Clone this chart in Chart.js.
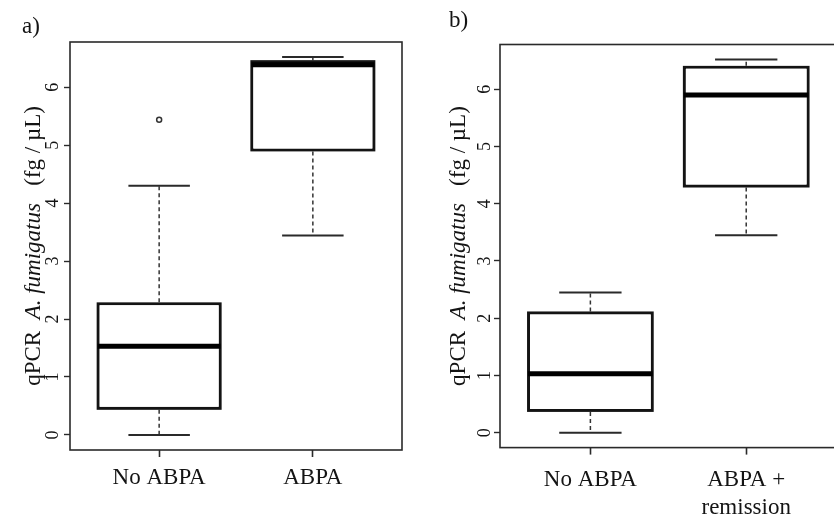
<!DOCTYPE html>
<html><head><meta charset="utf-8">
<script src="https://cdn.jsdelivr.net/npm/chart.js@4.4.1/dist/chart.umd.min.js"></script>
<style>
html,body{margin:0;padding:0;overflow:hidden;background:#fff;width:834px;height:521px;}
#wa{position:absolute;left:0;top:0;width:417px;height:521px;}
#wb{position:absolute;left:417px;top:0;width:440px;height:521px;}
</style></head><body>
<div id="wa"><canvas id="ca"></canvas></div>
<div id="wb"><canvas id="cb"></canvas></div>
<script>
// ---- data ----
const panelLabels = ['a)', 'b)'];
const categoriesA = ['No ABPA', 'ABPA'];
const categoriesB = ['No ABPA', ['ABPA +', 'remission']];

// panel a: box-plot summaries (fg/µL)
const whiskerLowA  = [0.00, 3.44];
const q1A          = [0.45, 4.91];
const medianA      = [1.53, 6.39];
const q3A          = [2.27, 6.45];
const whiskerHighA = [4.30, 6.52];
const outliersA    = [[5.44], []];

// panel b
const whiskerLowB  = [0.00, 3.45];
const q1B          = [0.38, 4.30];
const medianB      = [1.03, 5.90];
const q3B          = [2.10, 6.39];
const whiskerHighB = [2.45, 6.52];
const outliersB    = [[], []];

const yTicks = [0, 1, 2, 3, 4, 5, 6];
const yTitleParts = [
  {text: 'qPCR  ', italic: false},
  {text: 'A. fumigatus', italic: true},
  {text: '   (fg / \u00B5L)', italic: false}
];

const FONT = '"Liberation Serif", "Times New Roman", serif';
const INK = '#141414';

function makePanel(canvasId, label, cats, lo, q1, med, q3, hi, outs, L) {
  const n = cats.length;
  const all = lo.concat(hi, outs.flat());
  const dmin = Math.min(...all), dmax = Math.max(...all);
  const ypad = 0.04 * (dmax - dmin);
  const xpad = 0.04 * n;

  const boxPlugin = {
    id: 'box_' + canvasId,
    afterDatasetsDraw(chart) {
      const ctx = chart.ctx, xs = chart.scales.x, ys = chart.scales.y;
      const bars = chart.getDatasetMeta(0).data;
      ctx.save();
      for (let i = 0; i < n; i++) {
        const xc = xs.getPixelForValue(i + 1);
        const w = bars[i].width;
        // whiskers (dashed)
        ctx.strokeStyle = '#333';
        ctx.lineWidth = 1.5;
        ctx.setLineDash([4, 3]);
        ctx.beginPath();
        ctx.moveTo(xc, ys.getPixelForValue(q3[i]) - 1);
        ctx.lineTo(xc, ys.getPixelForValue(hi[i]));
        ctx.moveTo(xc, ys.getPixelForValue(q1[i]) + 1);
        ctx.lineTo(xc, ys.getPixelForValue(lo[i]));
        ctx.stroke();
        ctx.setLineDash([]);
        // caps
        ctx.lineWidth = 2;
        ctx.strokeStyle = '#2a2a2a';
        ctx.beginPath();
        ctx.moveTo(xc - w / 4, ys.getPixelForValue(hi[i]));
        ctx.lineTo(xc + w / 4, ys.getPixelForValue(hi[i]));
        ctx.moveTo(xc - w / 4, ys.getPixelForValue(lo[i]));
        ctx.lineTo(xc + w / 4, ys.getPixelForValue(lo[i]));
        ctx.stroke();
        // box outline redraw + median
        ctx.strokeStyle = INK;
        ctx.lineWidth = 2;
        const yt = ys.getPixelForValue(q3[i]), yb = ys.getPixelForValue(q1[i]);
        ctx.strokeRect(xc - w / 2, yt, w, yb - yt);
        ctx.lineWidth = 5;
        ctx.strokeStyle = '#000';
        ctx.beginPath();
        ctx.moveTo(xc - w / 2, ys.getPixelForValue(med[i]));
        ctx.lineTo(xc + w / 2, ys.getPixelForValue(med[i]));
        ctx.stroke();
      }
      ctx.restore();
    },
    afterDraw(chart) {
      const ctx = chart.ctx, ys = chart.scales.y, a = chart.chartArea;
      ctx.save();
      // frame
      ctx.strokeStyle = '#2a2a2a';
      ctx.lineWidth = 1.6;
      ctx.strokeRect(a.left, a.top, a.right - a.left, a.bottom - a.top);
      // y tick labels (rotated, parallel to axis)
      ctx.fillStyle = INK;
      ctx.font = L.tickSize + 'px ' + FONT;
      ctx.textAlign = 'center';
      ctx.textBaseline = 'middle';
      yTicks.forEach(v => {
        ctx.save();
        ctx.translate(a.left - L.tickLabelGap, ys.getPixelForValue(v));
        ctx.rotate(-Math.PI / 2);
        ctx.fillText(String(v), 0, 0);
        ctx.restore();
      });
      // y title with italic species name
      ctx.save();
      ctx.translate(L.titleX, (a.top + a.bottom) / 2);
      ctx.rotate(-Math.PI / 2);
      ctx.textAlign = 'left';
      const fonts = yTitleParts.map(p => (p.italic ? 'italic ' : '') + L.titleSize + 'px ' + FONT);
      let total = 0;
      const widths = yTitleParts.map((p, k) => { ctx.font = fonts[k]; const m = ctx.measureText(p.text).width; total += m; return m; });
      let x = -total / 2;
      yTitleParts.forEach((p, k) => { ctx.font = fonts[k]; ctx.fillText(p.text, x, 0); x += widths[k]; });
      ctx.restore();
      // panel label
      ctx.font = L.labelSize + 'px ' + FONT;
      ctx.textAlign = 'left';
      ctx.textBaseline = 'middle';
      ctx.fillText(label, L.labelX, L.labelY);
      ctx.restore();
    }
  };

  return new Chart(document.getElementById(canvasId), {
    type: 'bar',
    data: {
      datasets: [{
        type: 'bar',
        data: cats.map((c, i) => ({x: i + 1, y: [q1[i], q3[i]]})),
        backgroundColor: '#ffffff',
        borderColor: INK,
        borderWidth: 2,
        borderSkipped: false,
        barPercentage: 0.8,
        categoryPercentage: 1.0,
        grouped: false
      }, {
        type: 'scatter',
        data: outs.flatMap((arr, i) => arr.map(v => ({x: i + 1, y: v}))),
        pointRadius: 2.5,
        pointBorderWidth: 1.5,
        borderColor: '#333',
        backgroundColor: '#fff'
      }]
    },
    options: {
      responsive: true,
      maintainAspectRatio: false,
      animation: false,
      events: [],
      layout: {padding: {left: 0, right: L.padRight, top: L.padTop, bottom: 0}},
      plugins: {legend: {display: false}, tooltip: {enabled: false}, title: {display: false}},
      scales: {
        x: {
          type: 'linear',
          min: 0.5 - xpad,
          max: n + 0.5 + xpad,
          offset: false,
          afterBuildTicks: s => { s.ticks = cats.map((c, i) => ({value: i + 1})); },
          afterFit: s => { s.height = L.bottomH; },
          ticks: {
            autoSkip: false, maxRotation: 0, minRotation: 0,
            padding: L.xPad,
            color: INK,
            font: {family: FONT, size: L.xSize, lineHeight: 1.2},
            callback: v => cats[Math.round(v) - 1]
          },
          grid: {display: true, offset: false, drawOnChartArea: false, drawTicks: true, tickLength: 7, tickWidth: 1.6, tickColor: '#2a2a2a'},
          border: {display: false}
        },
        y: {
          type: 'linear',
          min: dmin - ypad,
          max: dmax + ypad,
          afterBuildTicks: s => { s.ticks = yTicks.map(v => ({value: v})); },
          afterFit: s => { s.width = L.leftW; },
          ticks: {display: false},
          grid: {display: true, drawOnChartArea: false, drawTicks: true, tickLength: 6, tickWidth: 1.4, tickColor: '#2a2a2a'},
          border: {display: false}
        }
      }
    },
    plugins: [boxPlugin]
  });
}

makePanel('ca', panelLabels[0], categoriesA, whiskerLowA, q1A, medianA, q3A, whiskerHighA, outliersA,
  {padRight: 15, padTop: 42, bottomH: 71, leftW: 70, xPad: 7, xSize: 23, tickSize: 18, tickLabelGap: 16.5,
   titleX: 34, titleSize: 23, labelSize: 23, labelX: 22, labelY: 27});
makePanel('cb', panelLabels[1], categoriesB, whiskerLowB, q1B, medianB, q3B, whiskerHighB, outliersB,
  {padRight: 20.4, padTop: 44.5, bottomH: 73.4, leftW: 83, xPad: 12, xSize: 23, tickSize: 18, tickLabelGap: 14.5,
   titleX: 42, titleSize: 23, labelSize: 23, labelX: 32, labelY: 21});
</script>
</body></html>
